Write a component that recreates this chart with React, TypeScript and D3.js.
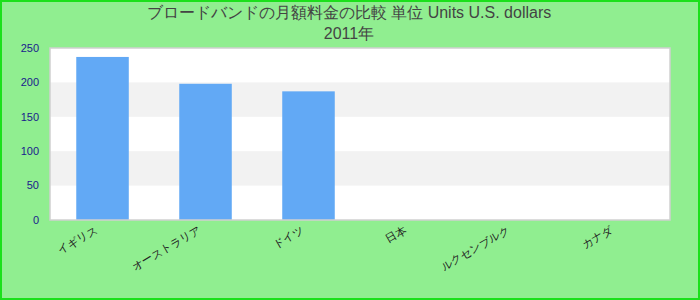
import React from "react";
import * as d3 from "d3";

// Monthly cost per country, 2011 (U.S. dollars)
const titleLines = ["ブロードバンドの月額料金の比較 単位 Units U.S. dollars", "2011年"];
const countries = ["イギリス", "オーストラリア", "ドイツ", "日本", "ルクセンブルク", "カナダ"];
const costs = [237, 198, 187, 0, 0, 0];
const yTicks = [0, 50, 100, 150, 200, 250];

const W = 700;
const H = 300;
const plot = { left: 50, right: 670, top: 48, bottom: 220 };

export default function App() {
  const x = d3
    .scaleBand<string>()
    .domain(countries)
    .range([plot.left, plot.right])
    .paddingInner(0.49)
    .paddingOuter(0.255);
  const y = d3.scaleLinear().domain([0, 250]).range([plot.bottom, plot.top]);

  const bands = yTicks.slice(0, -1).map((t, i) => ({ lo: t, hi: yTicks[i + 1], alt: i % 2 === 1 }));

  return (
    <svg
      width={W}
      height={H}
      style={{ position: "fixed", left: 0, top: 0, display: "block" }}
      fontFamily="'Liberation Sans', Arial, sans-serif"
    >
      <rect x={1} y={1} width={W - 2} height={H - 2} fill="#90ee90" stroke="#1be01b" strokeWidth={2} />

      {/* plot background with alternating stripes */}
      <rect x={plot.left} y={plot.top} width={plot.right - plot.left} height={plot.bottom - plot.top} fill="#ffffff" />
      {bands.map((b, i) =>
        b.alt ? (
          <rect
            key={i}
            x={plot.left}
            y={y(b.hi)}
            width={plot.right - plot.left}
            height={y(b.lo) - y(b.hi)}
            fill="#f2f2f2"
          />
        ) : null
      )}

      {countries.map((c, i) => (
        <rect
          key={c}
          x={x(c)}
          y={y(costs[i])}
          width={x.bandwidth()}
          height={plot.bottom - y(costs[i])}
          fill="#62a9f5"
        />
      ))}

      <rect
        x={plot.left}
        y={plot.top}
        width={plot.right - plot.left}
        height={plot.bottom - plot.top}
        fill="none"
        stroke="#d0d0d0"
        strokeWidth={1.5}
      />

      {yTicks.map((t) => (
        <text key={t} x={39} y={y(t)} dy="0.35em" textAnchor="end" fontSize={11} fill="#1a1a8c">
          {t}
        </text>
      ))}

      {countries.map((c) => {
        const cx = (x(c) ?? 0) + x.bandwidth() / 2 - 4;
        return (
          <text
            key={c}
            transform={`translate(${cx},${232}) rotate(-30)`}
            textAnchor="end"
            fontSize={11}
            fill="#222"
          >
            {c}
          </text>
        );
      })}

      {titleLines.map((line, i) => (
        <text key={i} x={349} y={18 + i * 21} textAnchor="middle" fontSize={16} fill="#444">
          {line}
        </text>
      ))}
    </svg>
  );
}
